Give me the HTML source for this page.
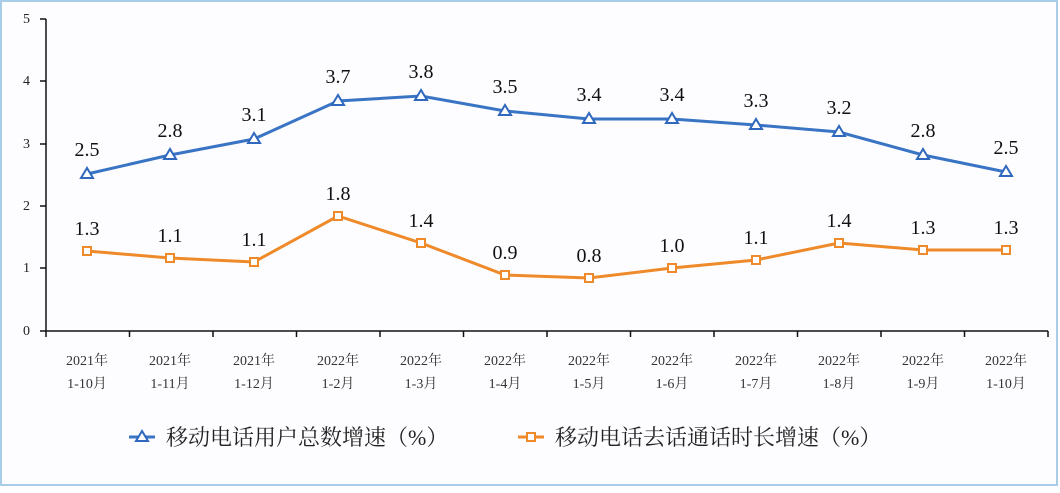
<!DOCTYPE html>
<html><head><meta charset="utf-8"><style>
body{margin:0;background:#fff}
svg text{font-family:"Liberation Serif","Noto Serif CJK SC",serif}
</style></head><body>
<svg width="1060" height="488" viewBox="0 0 1060 488" xmlns="http://www.w3.org/2000/svg">
<rect x="0" y="0" width="1060" height="488" fill="#fdfdff"/>
<rect x="1" y="1" width="1056" height="484" fill="none" stroke="#a9cde6" stroke-width="2"/>
<g stroke="#111" stroke-width="1.5" fill="none">
<line x1="46" y1="19" x2="46" y2="331"/>
<line x1="46" y1="331" x2="1048" y2="331"/>
<line x1="40" y1="19" x2="46" y2="19"/><line x1="40" y1="81" x2="46" y2="81"/><line x1="40" y1="144" x2="46" y2="144"/><line x1="40" y1="206" x2="46" y2="206"/><line x1="40" y1="268" x2="46" y2="268"/><line x1="40" y1="331" x2="46" y2="331"/>
<path d="M46 331v6M129.5 331v6M213 331v6M296.5 331v6M380 331v6M463.5 331v6M547 331v6M630.5 331v6M714 331v6M797.5 331v6M881 331v6M964.5 331v6M1048 331v6"/>
</g>
<g font-size="14" fill="#222" text-anchor="end">
<text x="30" y="23">5</text><text x="30" y="85">4</text><text x="30" y="148">3</text><text x="30" y="210">2</text><text x="30" y="272">1</text><text x="30" y="335">0</text>
</g>
<g font-size="14" fill="#333" text-anchor="middle">
<text x="87" y="365">2021年</text><text x="87" y="388">1-10月</text>
<text x="170" y="365">2021年</text><text x="170" y="388">1-11月</text>
<text x="254" y="365">2021年</text><text x="254" y="388">1-12月</text>
<text x="338" y="365">2022年</text><text x="338" y="388">1-2月</text>
<text x="421" y="365">2022年</text><text x="421" y="388">1-3月</text>
<text x="505" y="365">2022年</text><text x="505" y="388">1-4月</text>
<text x="589" y="365">2022年</text><text x="589" y="388">1-5月</text>
<text x="672" y="365">2022年</text><text x="672" y="388">1-6月</text>
<text x="756" y="365">2022年</text><text x="756" y="388">1-7月</text>
<text x="839" y="365">2022年</text><text x="839" y="388">1-8月</text>
<text x="923" y="365">2022年</text><text x="923" y="388">1-9月</text>
<text x="1006" y="365">2022年</text><text x="1006" y="388">1-10月</text>
</g>
<polyline fill="none" stroke="#3a74c4" stroke-width="3" points="87,174 170,155 254,139 338,101 421,96 505,111 589,119 672,119 756,125 839,132 923,155 1006,172"/>
<g fill="#fff" stroke="#2f68bd" stroke-width="2">
<path d="M87 168l-6 10h12z"/><path d="M170 149l-6 10h12z"/><path d="M254 133l-6 10h12z"/><path d="M338 95l-6 10h12z"/><path d="M421 90l-6 10h12z"/><path d="M505 105l-6 10h12z"/><path d="M589 113l-6 10h12z"/><path d="M672 113l-6 10h12z"/><path d="M756 119l-6 10h12z"/><path d="M839 126l-6 10h12z"/><path d="M923 149l-6 10h12z"/><path d="M1006 166l-6 10h12z"/>
</g>
<polyline fill="none" stroke="#ef8a2a" stroke-width="3" points="87,251 170,258 254,262 338,216 421,243 505,275 589,278 672,268 756,260 839,243 923,250 1006,250"/>
<g fill="#fff" stroke="#ef8a2a" stroke-width="2">
<rect x="83" y="247" width="8" height="8"/><rect x="166" y="254" width="8" height="8"/><rect x="250" y="258" width="8" height="8"/><rect x="334" y="212" width="8" height="8"/><rect x="417" y="239" width="8" height="8"/><rect x="501" y="271" width="8" height="8"/><rect x="585" y="274" width="8" height="8"/><rect x="668" y="264" width="8" height="8"/><rect x="752" y="256" width="8" height="8"/><rect x="835" y="239" width="8" height="8"/><rect x="919" y="246" width="8" height="8"/><rect x="1002" y="246" width="8" height="8"/>
</g>
<g font-size="20" fill="#111" text-anchor="middle">
<text x="87" y="156">2.5</text><text x="170" y="137">2.8</text><text x="254" y="121">3.1</text><text x="338" y="83">3.7</text><text x="421" y="78">3.8</text><text x="505" y="93">3.5</text><text x="589" y="101">3.4</text><text x="672" y="101">3.4</text><text x="756" y="107">3.3</text><text x="839" y="114">3.2</text><text x="923" y="137">2.8</text><text x="1006" y="154">2.5</text>
<text x="87" y="235">1.3</text><text x="170" y="242">1.1</text><text x="254" y="246">1.1</text><text x="338" y="200">1.8</text><text x="421" y="227">1.4</text><text x="505" y="259">0.9</text><text x="589" y="262">0.8</text><text x="672" y="252">1.0</text><text x="756" y="244">1.1</text><text x="839" y="227">1.4</text><text x="923" y="234">1.3</text><text x="1006" y="234">1.3</text>
</g>
<line x1="129" y1="437" x2="155" y2="437" stroke="#3a74c4" stroke-width="3"/>
<path d="M142 431l-6 10h12z" fill="#fff" stroke="#2f68bd" stroke-width="2"/>
<text x="166" y="445" font-size="22" fill="#222">移动电话用户总数增速（%）</text>
<line x1="518" y1="437" x2="544" y2="437" stroke="#ef8a2a" stroke-width="3"/>
<rect x="527" y="433" width="8" height="8" fill="#fff" stroke="#ef8a2a" stroke-width="2"/>
<text x="555" y="445" font-size="22" fill="#222">移动电话去话通话时长增速（%）</text>
</svg>
</body></html>
